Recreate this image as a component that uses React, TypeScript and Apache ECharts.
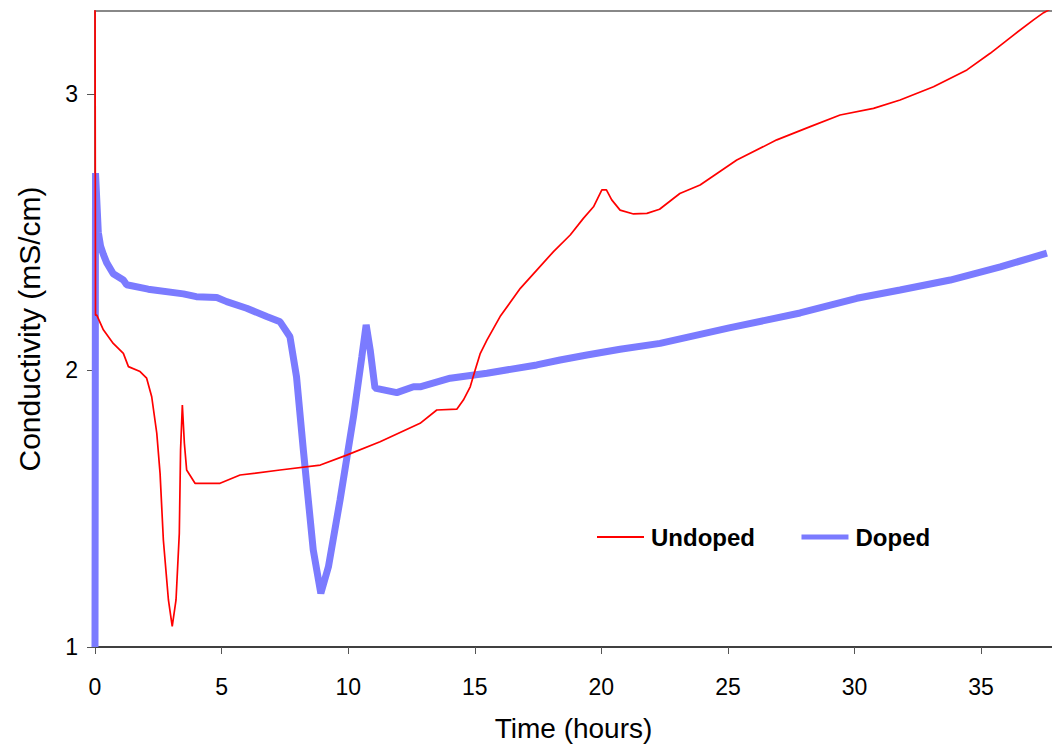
import React, { useEffect, useRef } from "react";
import * as echarts from "echarts";

const FONT = "'Liberation Sans', Arial, Helvetica, sans-serif";

const seriesNames = ["Undoped", "Doped"];

const undopedTime = [
  0, 0.02, 0.07, 0.33, 0.72, 1.12, 1.32, 1.78, 2.04, 2.24, 2.44, 2.57, 2.7, 2.9, 3.05, 3.2, 3.33,
  3.38, 3.45, 3.53, 3.62, 3.95, 4.94, 5.73, 7.31, 8.9, 9.94, 11.26, 12.84, 13.5, 14.29, 14.55,
  14.82, 15.01, 15.21, 15.48, 16.0, 16.8, 17.45, 18.11, 18.77, 19.29, 19.69, 20.02, 20.2, 20.41,
  20.74, 21.27, 21.8, 22.3, 23.1, 23.9, 25.35, 26.93, 28.25, 29.43, 30.75, 31.8, 33.12, 34.44,
  35.36, 36.28, 37.07, 37.47, 37.8,
];
const undopedValue = [
  3.4, 2.2, 2.2, 2.147, 2.098, 2.062, 2.014, 1.996, 1.972, 1.905, 1.773, 1.628, 1.387, 1.17, 1.075,
  1.17, 1.411, 1.712, 1.875, 1.737, 1.64, 1.592, 1.592, 1.622, 1.64, 1.658, 1.694, 1.742, 1.809,
  1.857, 1.86, 1.893, 1.941, 2.0, 2.06, 2.11, 2.195, 2.297, 2.363, 2.43, 2.49, 2.55, 2.592, 2.653,
  2.653, 2.617, 2.58, 2.566, 2.568, 2.583, 2.64, 2.671, 2.761, 2.834, 2.882, 2.924, 2.948, 2.978,
  3.026, 3.087, 3.147, 3.213, 3.268, 3.294, 3.31,
];

const dopedTime = [
  0, 0.02, 0.07, 0.13, 0.22, 0.33, 0.46, 0.72, 1.12, 1.25, 2.1, 3.49, 4.0, 4.81, 5.2, 5.99, 6.78,
  7.31, 7.7, 7.96, 8.23, 8.62, 8.92, 9.22, 9.68, 10.21, 10.54, 10.71, 10.87, 11.06, 11.92, 12.58,
  12.84, 14.03, 15.48, 17.45, 18.37, 19.43, 20.74, 22.32, 25.05, 27.85, 30.09, 31.8, 33.78, 35.76,
  37.6,
];
const dopedValue = [
  1.0, 2.714, 2.617, 2.5, 2.45, 2.42, 2.39, 2.35, 2.327, 2.31, 2.294, 2.277, 2.267, 2.264, 2.249,
  2.225, 2.195, 2.176, 2.122, 1.977, 1.712, 1.351, 1.194, 1.29, 1.532, 1.833, 2.05, 2.165, 2.074,
  1.936, 1.92, 1.941, 1.941, 1.972, 1.99, 2.02, 2.038, 2.056, 2.077, 2.098, 2.154, 2.208, 2.261,
  2.291, 2.327, 2.375, 2.424,
];

const xTicks = [0, 5, 10, 15, 20, 25, 30, 35];
const yTicks = [1, 2, 3];
const xMin = 0;
const xMax = 37.8;
const yMin = 1;
const yMax = 3.3;

const zip = (t: number[], v: number[]) => t.map((x, i) => [x, v[i]]);

export default function App() {
  const ref = useRef<HTMLDivElement>(null);
  useEffect(() => {
    if (!ref.current) return;
    const chart = echarts.init(ref.current, undefined, { renderer: "svg" });
    chart.setOption({
      animation: false,
      backgroundColor: "#ffffff",
      textStyle: { fontFamily: FONT },
      grid: { left: 95, right: 0, top: 11, bottom: 102 },
      legend: {
        left: 591,
        top: 520,
        itemWidth: 47,
        itemHeight: 14,
        itemGap: 44,
        itemStyle: { opacity: 0 },
        textStyle: { fontFamily: FONT, fontSize: 24, fontWeight: "bold", color: "#000", padding: [0, 0, 0, 2] },
        data: [
          { name: seriesNames[0] },
          { name: seriesNames[1], lineStyle: { width: 5 } },
        ],
      },
      xAxis: [
        {
          type: "value",
          min: xMin,
          max: xMax,
          name: "Time (hours)",
          nameLocation: "middle",
          nameGap: 67,
          nameTextStyle: { fontFamily: FONT, fontSize: 28, color: "#000" },
          axisLine: { show: true, lineStyle: { color: "#404040", width: 2 } },
          axisTick: { show: true, length: 7, lineStyle: { color: "#555" }, customValues: xTicks },
          axisLabel: { fontFamily: FONT, fontSize: 23, color: "#000", margin: 28, customValues: xTicks },
          splitLine: { show: false },
        },
        {
          type: "value",
          position: "top",
          min: xMin,
          max: xMax,
          axisLine: { show: true, lineStyle: { color: "#888888", width: 2 } },
          axisTick: { show: false },
          axisLabel: { show: false },
          splitLine: { show: false },
        },
      ],
      yAxis: {
        type: "value",
        min: yMin,
        max: yMax,
        name: "Conductivity (mS/cm)",
        nameLocation: "middle",
        nameGap: 51,
        nameTextStyle: { fontFamily: FONT, fontSize: 30, color: "#000" },
        axisLine: { show: true, lineStyle: { color: "#808080", width: 2 } },
        axisTick: { show: true, length: 8, lineStyle: { color: "#555" }, customValues: yTicks },
        axisLabel: { fontFamily: FONT, fontSize: 23, color: "#000", margin: 17, customValues: yTicks },
        splitLine: { show: false },
      },
      series: [
        {
          name: seriesNames[0],
          type: "line",
          xAxisIndex: 0,
          data: zip(undopedTime, undopedValue),
          showSymbol: false,
          symbol: "none",
          lineStyle: { color: "#ff0000", width: 1.7 },
          itemStyle: { color: "#ff0000" },
          z: 4,
        },
        {
          name: seriesNames[1],
          type: "line",
          xAxisIndex: 0,
          data: zip(dopedTime, dopedValue),
          showSymbol: false,
          symbol: "none",
          lineStyle: { color: "#7b7bff", width: 7 },
          itemStyle: { color: "#7b7bff" },
          z: 3,
        },
      ],
    });
    return () => chart.dispose();
  }, []);
  return <div ref={ref} style={{ width: 1052, height: 749, position: "absolute", left: 0, top: 0 }} />;
}
